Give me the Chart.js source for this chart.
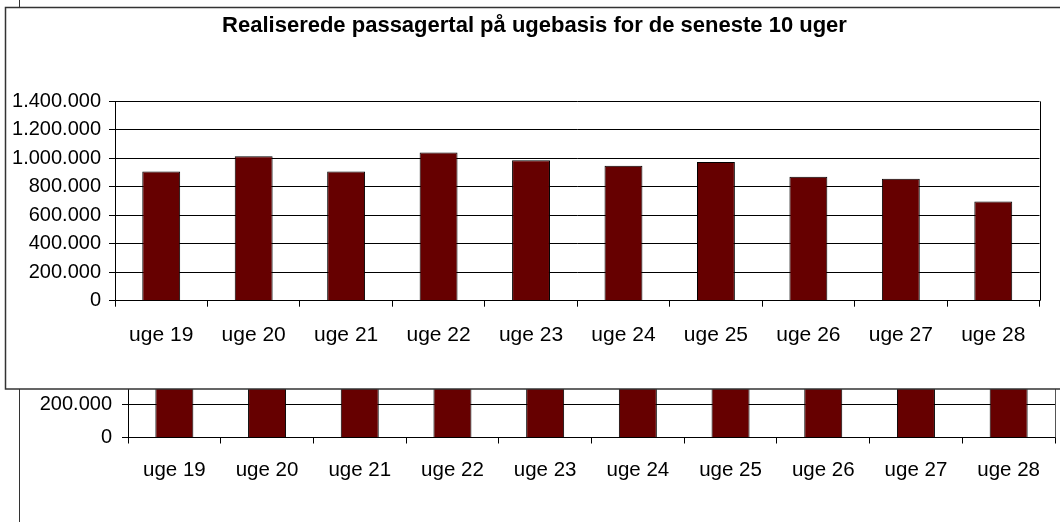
<!DOCTYPE html>
<html>
<head>
<meta charset="utf-8">
<script src="https://cdn.jsdelivr.net/npm/chart.js@4.4.1/dist/chart.umd.min.js"></script>
<style>
html,body{margin:0;padding:0;background:#fff;overflow:hidden;width:1060px;height:522px;}
canvas{position:absolute;left:0;top:0;}
#back{z-index:0;}
#front{z-index:1;}
</style>
</head>
<body>
<canvas id="back" width="1100" height="560"></canvas>
<canvas id="front" width="1070" height="391"></canvas>
<script>
// ---- data ----
const categories = ['uge 19','uge 20','uge 21','uge 22','uge 23','uge 24','uge 25','uge 26','uge 27','uge 28'];
const passengers = [908000, 1015000, 908000, 1041000, 987000, 948000, 975000, 870000, 856000, 697000];
const titleText = 'Realiserede passagertal på ugebasis for de seneste 10 uger';
const yMin = 0;
const yMax = 1400000;
const yStep = 200000;

function fmt(v){ return String(v).replace(/\B(?=(\d{3})+(?!\d))/g, '.'); }

Chart.defaults.font.family = "'Liberation Sans', Arial, sans-serif";
Chart.defaults.color = '#000';

const BAR_FILL = '#660000';

function makeConfig(o){
  const scales = {
    x: {
      offset: true,
      grid: { display: true, drawOnChartArea: false, drawTicks: true, tickLength: 6, color: '#000', offset: true },
      border: { display: true, color: '#000' },
      ticks: { font: { size: o.xFont }, color: '#000', padding: o.xPad, maxRotation: 0, autoSkip: false },
      afterFit: s => { s.height = o.xH; }
    },
    y: {
      min: yMin, max: yMax,
      grid: { color: '#000', tickLength: 6, drawTicks: true },
      border: { display: true, color: '#000' },
      ticks: { stepSize: yStep, font: { size: o.yFont }, color: '#000', padding: o.yPad, callback: v => fmt(v) },
      afterFit: s => { s.width = o.yW; }
    }
  };
  if (o.y2W) {
    scales.y2 = {
      position: 'right',
      min: yMin, max: yMax,
      grid: { display: false, drawOnChartArea: false },
      border: { display: false },
      ticks: { display: false },
      afterFit: s => { s.width = o.y2W; }
    };
  }
  return {
    type: 'bar',
    data: {
      labels: categories,
      datasets: [{
        data: passengers,
        backgroundColor: BAR_FILL,
        borderColor: '#000',
        borderWidth: 1,
        barPercentage: 0.41,
        categoryPercentage: 1.0
      }]
    },
    options: {
      responsive: false,
      animation: false,
      layout: { padding: o.padding },
      plugins: {
        legend: { display: false },
        tooltip: { enabled: false },
        title: o.title
      },
      scales: scales
    },
    plugins: [o.box]
  };
}

function rightBorder(chart, color){
  const a = chart.chartArea, c = chart.ctx;
  c.save();
  c.strokeStyle = color; c.lineWidth = 1;
  const x = Math.round(a.right) + 0.5;
  c.beginPath(); c.moveTo(x, a.top); c.lineTo(x, a.bottom); c.stroke();
  c.restore();
}

// background (partially hidden) chart
new Chart(document.getElementById('back'), makeConfig({
  padding: { left: 30, right: 45, top: 204.5, bottom: 0 },
  title: { display: false },
  xFont: 20.5, xPad: 15, xH: 122.5,
  yFont: 20, yPad: 10, yW: 98,
  box: {
    id: 'backBox',
    beforeDraw(chart){
      const c = chart.ctx;
      c.save();
      c.fillStyle = '#fff'; c.fillRect(19, 0, 1100, 560);
      c.strokeStyle = '#333'; c.lineWidth = 1;
      c.beginPath(); c.moveTo(19.5, 0); c.lineTo(19.5, 560); c.stroke();
      c.restore();
    },
    afterDraw(chart){ rightBorder(chart, '#555'); }
  }
}));

// foreground chart
new Chart(document.getElementById('front'), makeConfig({
  padding: { left: 0, right: 1, top: 0, bottom: 0 },
  title: { display: true, text: titleText, color: '#000', font: { size: 22, weight: 'bold' }, padding: { top: 13, bottom: 62 } },
  xFont: 21, xPad: 16, xH: 90.3,
  yFont: 20, yPad: 8, yW: 115,
  y2W: 29.5,
  box: {
    id: 'frontBox',
    beforeDraw(chart){
      const c = chart.ctx;
      c.save();
      c.fillStyle = '#fff'; c.fillRect(5, 7, 1065, 382);
      c.strokeStyle = '#333'; c.lineWidth = 1.5;
      c.strokeRect(5.5, 7.5, 1058, 381.5);
      c.restore();
    },
    afterDraw(chart){ rightBorder(chart, '#000'); }
  }
}));
</script>
</body>
</html>
